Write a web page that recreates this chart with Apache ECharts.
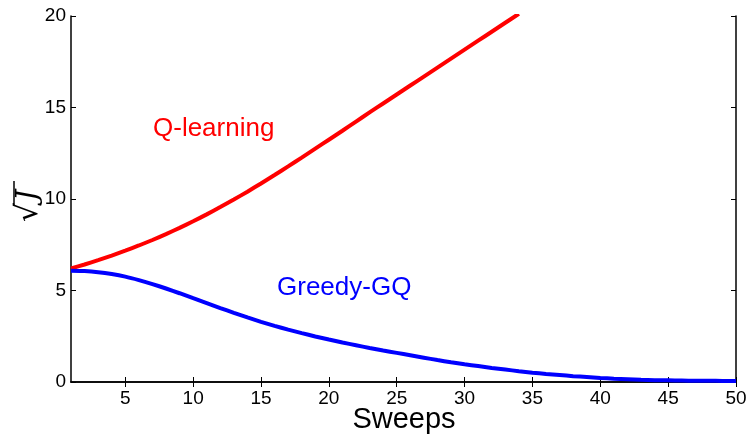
<!DOCTYPE html>
<html>
<head>
<meta charset="utf-8">
<script src="https://cdn.jsdelivr.net/npm/echarts@6/dist/echarts.min.js"></script>
<style>html,body{margin:0;padding:0;background:#fff}#c{width:750px;height:437px}</style>
</head>
<body>
<div id="c"></div>
<script>
const sweeps = [1,2,3,4,5,6,7,8,9,10,11,12,13,14,15,16,17,18,19,20,21,22,23,24,25,26,27,28,29,30,31,32,33,34,35,36,37,38,39,40,41,42,43,44,45,46,47,48,49,50];
const qLearning = [6.20,6.42,6.66,6.91,7.18,7.46,7.76,8.08,8.42,8.78,9.16,9.56,9.97,10.40,10.85,11.31,11.78,12.26,12.75,13.24,13.73,14.23,14.73,15.22,15.71,16.20,16.69,17.18,17.67,18.16,18.65,19.14,19.63,20.12];
const greedyGQ = [6.08,6.06,6.00,5.90,5.76,5.57,5.35,5.11,4.85,4.58,4.31,4.04,3.78,3.53,3.29,3.07,2.86,2.67,2.49,2.32,2.16,2.01,1.86,1.72,1.59,1.46,1.33,1.20,1.08,0.97,0.87,0.77,0.68,0.59,0.51,0.44,0.38,0.32,0.27,0.22,0.18,0.15,0.12,0.10,0.09,0.08,0.07,0.065,0.06,0.06];
const xTicks = [5,10,15,20,25,30,35,40,45,50];
const yTicks = [0,5,10,15,20];
const seriesNames = ['Q-learning','Greedy-GQ'];
const xName = 'Sweeps';

const chart = echarts.init(document.getElementById('c'), null, {renderer:'canvas'});
const FONT = 'Liberation Sans, Arial, Helvetica, sans-serif';
const axisLine = {show:true, lineStyle:{color:'#000', width:1.5}};
const tick = {show:true, inside:true, length:5, lineStyle:{color:'#000', width:1}};
function pairs(vals){ return vals.map((v,i)=>[sweeps[i], v]); }

chart.setOption({
  animation:false,
  backgroundColor:'#fff',
  grid:{left:71, right:14, top:16, bottom:55, containLabel:false, outerBoundsMode:'none'},
  xAxis:[{
    type:'value', min:1, max:50, position:'bottom',
    axisLine:axisLine,
    axisTick:Object.assign({customValues:xTicks}, tick),
    axisLabel:{customValues:xTicks, color:'#000', fontSize:19, fontFamily:FONT, margin:7},
    splitLine:{show:false}
  },{
    type:'value', min:1, max:50, position:'top',
    axisLine:axisLine,
    axisTick:Object.assign({customValues:xTicks}, tick),
    axisLabel:{show:false}, splitLine:{show:false}
  }],
  yAxis:[{
    type:'value', min:0, max:20, interval:5, position:'left',
    axisLine:axisLine, axisTick:tick,
    axisLabel:{color:'#000', fontSize:19, fontFamily:FONT, margin:5},
    splitLine:{show:false}
  },{
    type:'value', min:0, max:20, interval:5, position:'right',
    axisLine:axisLine, axisTick:tick,
    axisLabel:{show:false}, splitLine:{show:false}
  }],
  series:[{
    name:seriesNames[0], type:'line', data:pairs(qLearning), showSymbol:false, symbol:'none', smooth:0.2,
    clip:true, lineStyle:{color:'#ff0000', width:4}, z:3
  },{
    name:seriesNames[1], type:'line', data:pairs(greedyGQ), showSymbol:false, symbol:'none', smooth:0.2,
    clip:true, lineStyle:{color:'#0000ff', width:4}, z:3
  }],
  graphic:[
    {type:'text', x:404, y:420, style:{text:xName, fill:'#000', font:'29px ' + FONT, align:'center', verticalAlign:'middle'}},
    {type:'text', left:153, top:116, style:{text:seriesNames[0], fill:'#ff0000', font:'26px ' + FONT}},
    {type:'text', left:277, top:275, style:{text:seriesNames[1], fill:'#0000ff', font:'26px ' + FONT}},
    {type:'group', x:29, y:203, rotation:Math.PI/2, children:[
      {type:'text', x:0, y:0, style:{text:'√', fill:'#000', font:'30px DejaVu Serif', align:'right', verticalAlign:'middle'}},
      {type:'text', x:2, y:0, style:{text:'J', fill:'#000', font:'italic 28px DejaVu Serif', align:'left', verticalAlign:'middle'}},
      {type:'line', shape:{x1:-2, y1:-15, x2:22, y2:-15}, style:{stroke:'#000', lineWidth:1.5}}
    ]}
  ]
});
</script>
</body>
</html>
